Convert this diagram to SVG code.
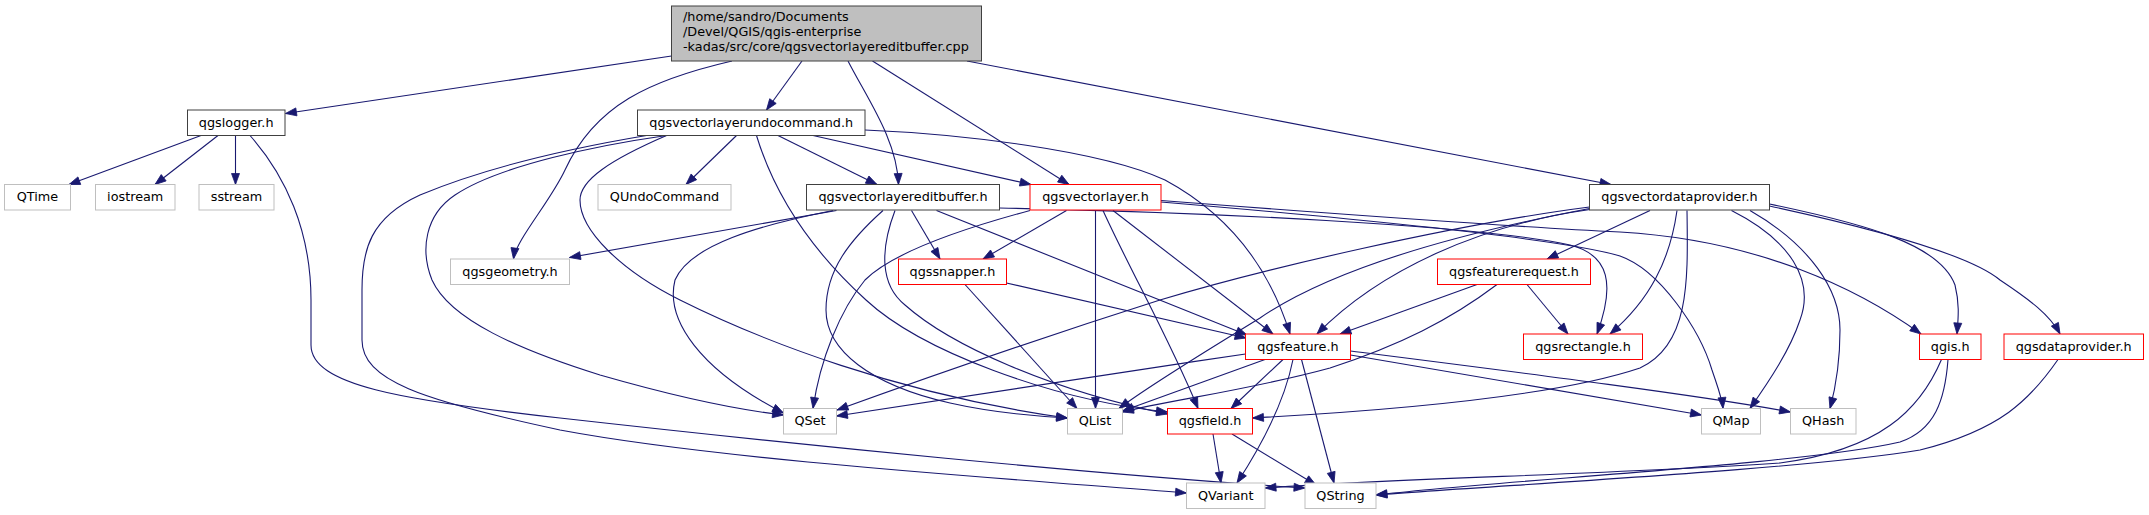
<svg xmlns="http://www.w3.org/2000/svg" width="2149" height="515" viewBox="0 0 2149 515">
<style>
.n rect{fill:#fff;stroke:#404040;stroke-width:1}
.n.r rect{stroke:#ff0000}
.n.g rect{stroke:#bfbfbf}
.n.root rect{fill:#bfbfbf;stroke:#404040}
text{font-family:"DejaVu Sans","Liberation Sans",sans-serif;font-size:12.8px;fill:#000}
.n text{text-anchor:middle}
.n.root text{text-anchor:start}
#edges path{fill:none;stroke:#191970;stroke-width:1.1;marker-end:url(#ah)}
</style>
<defs>
<marker id="ah" viewBox="0 0 11 8" refX="11" refY="4" markerWidth="11" markerHeight="8" markerUnits="userSpaceOnUse" orient="auto" overflow="visible"><path d="M0,0L11,4L0,8z" fill="#191970" stroke="#191970" stroke-width="0.8"/></marker>
</defs>
<rect width="2149" height="515" fill="#fff"/>
<g id="edges">
<path d="M671.5,56 L285.5,113.5"/>
<path d="M732,61 C650,80 595,105 565,170 C550,202 516,240 513.5,259"/>
<path d="M802,61 L766.5,110"/>
<path d="M848,61 C868,100 897,140 898.5,184.5"/>
<path d="M872.5,61 L1069,184.5"/>
<path d="M967,61 L1611,184.5"/>
<path d="M201,135.5 L69,184.5"/>
<path d="M218,135.5 L155,184.5"/>
<path d="M235.5,135.5 L235.5,184.5"/>
<path d="M250,135.5 C285,175 311,230 311,300 L311,345 C311,385 400,400 560,418 C800,445 1100,475 1305,488"/>
<path d="M736.5,135.5 L686,184.5"/>
<path d="M778,135.5 L877,184.5"/>
<path d="M813,135.5 L1031,184.5"/>
<path d="M865,130 C960,134 1100,150 1165,180 C1230,215 1270,270 1290,334"/>
<path d="M646.5,135.5 C560,150 480,170 420,195 C370,218 362,250 362,290 L362,340 C362,380 420,400 560,430 C720,460 1000,478 1186.5,493"/>
<path d="M666.5,135.5 C600,145 500,165 455,195 C425,215 420,250 432,280 C450,320 520,350 600,375 C680,398 740,410 783.5,415"/>
<path d="M666.5,135.5 C610,160 580,180 580,200 C580,230 620,270 680,300 C760,340 900,395 1067.5,418"/>
<path d="M756.5,135.5 C770,180 800,240 866,300 C920,350 1050,400 1167.5,412"/>
<path d="M895,210.5 C880,250 880,285 905,305 C950,345 1050,390 1167.5,414"/>
<path d="M836.5,210.5 L569.5,257.5"/>
<path d="M833,210.5 C760,225 690,245 675,280 C665,320 700,370 783.5,413"/>
<path d="M883,210.5 C850,240 826,270 826,310 C826,350 870,385 950,403 C990,412 1030,416 1067.5,418"/>
<path d="M911.5,210.5 L940,259"/>
<path d="M936.5,210.5 L1247,335"/>
<path d="M999.5,208 C1200,212 1480,225 1570,245 C1610,255 1615,285 1597,334"/>
<path d="M1161,200.5 C1350,215 1500,226 1620,232 C1760,240 1860,290 1921,334"/>
<path d="M1161,202 C1350,218 1560,238 1620,256 C1660,270 1700,330 1712,370 C1718,388 1722,398 1723,408.5"/>
<path d="M1030,210.5 C950,232 890,255 865,280 C840,310 820,360 813,408.5"/>
<path d="M1066.5,210.5 L983,259"/>
<path d="M1095.5,210.5 L1095.5,408.5"/>
<path d="M1103,210.5 C1130,270 1170,340 1198,408.5"/>
<path d="M1113,210.5 L1273,334"/>
<path d="M1006.5,283 L1246,338"/>
<path d="M965,284.5 L1077,408.5"/>
<path d="M1589.5,207 C1450,225 1260,270 1160,300 C1050,335 920,380 837,410"/>
<path d="M1589.5,208.5 C1450,235 1330,270 1260,318 C1200,355 1150,385 1119,408.5"/>
<path d="M1590,209.5 C1480,225 1380,270 1317,334"/>
<path d="M1650,210.5 L1547,259"/>
<path d="M1677,210.5 C1670,260 1650,300 1610,334"/>
<path d="M1687,210.5 C1688,280 1690,345 1640,368 C1560,395 1400,410 1252.5,418"/>
<path d="M1731.5,210.5 C1790,240 1815,280 1800,320 C1790,350 1770,380 1750,408.5"/>
<path d="M1750,210.5 C1810,245 1840,290 1840,330 C1840,365 1835,390 1830,408.5"/>
<path d="M1769.5,204 C1870,225 1940,245 1955,285 C1960,305 1958,320 1957,334"/>
<path d="M1769.5,206 C1880,230 1970,255 2000,280 C2030,300 2050,315 2060,334"/>
<path d="M1477,284.5 L1340,334"/>
<path d="M1527,284.5 L1568,334"/>
<path d="M1497,284.5 C1450,320 1400,345 1330,368 C1250,390 1170,400 1122.5,412"/>
<path d="M1245.5,354 C1100,375 950,400 836.5,416"/>
<path d="M1265,359.5 L1122.5,411"/>
<path d="M1283,359.5 L1231,408.5"/>
<path d="M1293,359.5 C1285,400 1265,440 1237,483"/>
<path d="M1301.5,359.5 L1334,483"/>
<path d="M1350.5,355 C1500,380 1620,400 1701.5,415"/>
<path d="M1350.5,351 C1500,370 1700,395 1790.5,412"/>
<path d="M1213,434 L1221,483"/>
<path d="M1232,434 L1316,485"/>
<path d="M1941.5,359.5 C1920,410 1880,450 1780,463 C1600,475 1400,478 1265,488"/>
<path d="M1948,359.5 C1945,400 1935,430 1900,442 C1800,465 1500,480 1376,495"/>
<path d="M2058,359.5 C2030,400 2000,430 1920,450 C1800,470 1500,485 1376,495"/>
</g>
<g id="root" class="n root"><rect x="671.5" y="6" width="310" height="55"/><text x="683" y="21">/home/sandro/Documents</text><text x="683" y="36">/Devel/QGIS/qgis-enterprise</text><text x="683" y="51">-kadas/src/core/qgsvectorlayereditbuffer.cpp</text></g>
<g id="qgslogger" class="n"><rect x="187.5" y="110" width="97.5" height="25.5"/><text x="236.2" y="126.8">qgslogger.h</text></g>
<g id="undocommand" class="n"><rect x="637.5" y="110" width="227.5" height="25.5"/><text x="751.2" y="126.8">qgsvectorlayerundocommand.h</text></g>
<g id="QTime" class="n g"><rect x="4.5" y="184.5" width="66" height="25.5"/><text x="37.5" y="201.3">QTime</text></g>
<g id="iostream" class="n g"><rect x="95.5" y="184.5" width="79.5" height="25.5"/><text x="135.2" y="201.3">iostream</text></g>
<g id="sstream" class="n g"><rect x="199" y="184.5" width="75" height="25.5"/><text x="236.5" y="201.3">sstream</text></g>
<g id="QUndoCommand" class="n g"><rect x="598" y="184.5" width="133" height="25.5"/><text x="664.5" y="201.3">QUndoCommand</text></g>
<g id="editbuffer" class="n"><rect x="806.5" y="184.5" width="193" height="25.5"/><text x="903" y="201.3">qgsvectorlayereditbuffer.h</text></g>
<g id="vectorlayer" class="n r"><rect x="1030" y="184.5" width="131" height="25.5"/><text x="1095.5" y="201.3">qgsvectorlayer.h</text></g>
<g id="vectordataprovider" class="n"><rect x="1589.5" y="184.5" width="180" height="25.5"/><text x="1679.5" y="201.3">qgsvectordataprovider.h</text></g>
<g id="qgsgeometry" class="n g"><rect x="450.5" y="259" width="119" height="25.5"/><text x="510" y="275.8">qgsgeometry.h</text></g>
<g id="qgssnapper" class="n r"><rect x="898.5" y="259" width="108" height="25.5"/><text x="952.5" y="275.8">qgssnapper.h</text></g>
<g id="featurerequest" class="n r"><rect x="1437.5" y="259" width="153" height="25.5"/><text x="1514" y="275.8">qgsfeaturerequest.h</text></g>
<g id="qgsfeature" class="n r"><rect x="1245.5" y="334" width="105" height="25.5"/><text x="1298" y="350.8">qgsfeature.h</text></g>
<g id="qgsrectangle" class="n r"><rect x="1523.5" y="334" width="119" height="25.5"/><text x="1583" y="350.8">qgsrectangle.h</text></g>
<g id="qgis" class="n r"><rect x="1919.5" y="334" width="61.5" height="25.5"/><text x="1950.2" y="350.8">qgis.h</text></g>
<g id="qgsdataprovider" class="n r"><rect x="2004" y="334" width="139.5" height="25.5"/><text x="2073.7" y="350.8">qgsdataprovider.h</text></g>
<g id="QSet" class="n g"><rect x="783.5" y="408.5" width="53" height="25.5"/><text x="810" y="425.3">QSet</text></g>
<g id="QList" class="n g"><rect x="1067.5" y="408.5" width="55" height="25.5"/><text x="1095" y="425.3">QList</text></g>
<g id="qgsfield" class="n r"><rect x="1167.5" y="408.5" width="85" height="25.5"/><text x="1210" y="425.3">qgsfield.h</text></g>
<g id="QMap" class="n g"><rect x="1701.5" y="408.5" width="59" height="25.5"/><text x="1731" y="425.3">QMap</text></g>
<g id="QHash" class="n g"><rect x="1790.5" y="408.5" width="65.5" height="25.5"/><text x="1823.2" y="425.3">QHash</text></g>
<g id="QVariant" class="n g"><rect x="1186.5" y="483" width="78.5" height="25.5"/><text x="1225.7" y="499.8">QVariant</text></g>
<g id="QString" class="n g"><rect x="1305" y="483" width="71" height="25.5"/><text x="1340.5" y="499.8">QString</text></g>
</svg>
